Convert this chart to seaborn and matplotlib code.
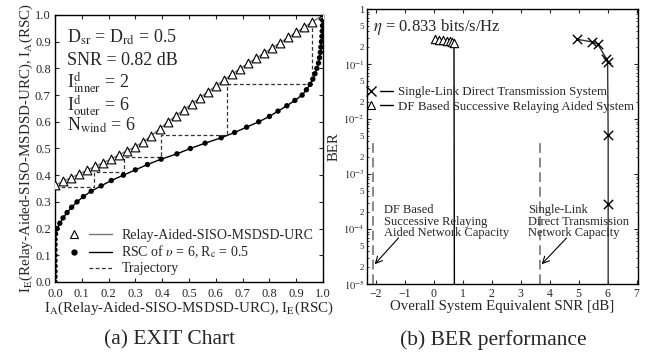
import numpy as np
import matplotlib
matplotlib.use("Agg")
import matplotlib.pyplot as plt
import matplotlib.ticker as mticker
from matplotlib.lines import Line2D
from matplotlib.legend_handler import HandlerTuple
import seaborn as sns

# --- EXIT chart data ---
# RSC curve: I_A(RSC) on the y axis, I_E(RSC) on the x axis
rsc_ia = [0.00, 0.02, 0.04, 0.06, 0.08, 0.10, 0.12, 0.14, 0.16, 0.18,
          0.20, 0.22, 0.24, 0.26, 0.28, 0.30, 0.32, 0.34, 0.36, 0.38,
          0.40, 0.42, 0.44, 0.46, 0.48, 0.50, 0.52, 0.54, 0.56, 0.58,
          0.60, 0.62, 0.64, 0.66, 0.68, 0.70, 0.72, 0.74, 0.76, 0.78,
          0.80, 0.82, 0.84, 0.86, 0.88, 0.90, 0.92, 0.94, 0.96, 0.98, 1.00]
rsc_ie = [0.0, 0.0, 0.0, 0.0, 0.0, 0.0, 0.0, 0.0, 0.0, 0.002,
          0.008, 0.018, 0.030, 0.045, 0.062, 0.082, 0.106, 0.135, 0.172, 0.210,
          0.255, 0.300, 0.345, 0.396, 0.455, 0.505, 0.560, 0.620, 0.670, 0.715,
          0.760, 0.800, 0.832, 0.865, 0.895, 0.922, 0.938, 0.952, 0.962, 0.970,
          0.977, 0.983, 0.987, 0.990, 0.992, 0.994, 0.996, 0.997, 0.998, 0.999, 1.0]

# Relay-Aided-SISO-MSDSD-URC curve
inner_ia = [0.00, 0.03, 0.06, 0.09, 0.12, 0.15, 0.18, 0.21, 0.24, 0.27,
            0.30, 0.33, 0.36, 0.39, 0.42, 0.45, 0.48, 0.51, 0.54, 0.57,
            0.60, 0.63, 0.66, 0.69, 0.72, 0.75, 0.78, 0.81, 0.84, 0.87,
            0.90, 0.93, 0.96, 1.00]
inner_ie = [0.362, 0.377, 0.391, 0.404, 0.419, 0.433, 0.447, 0.461, 0.477, 0.492,
            0.507, 0.525, 0.548, 0.573, 0.598, 0.622, 0.645, 0.667, 0.690, 0.712,
            0.734, 0.756, 0.778, 0.799, 0.819, 0.838, 0.857, 0.877, 0.896, 0.916,
            0.935, 0.954, 0.974, 1.000]

# decoding trajectory (staircase corners)
traj_x = [0.0, 0.147, 0.147, 0.257, 0.257, 0.397, 0.397, 0.643, 0.643, 0.96, 0.96]
traj_y = [0.357, 0.357, 0.413, 0.413, 0.467, 0.467, 0.55, 0.55, 0.74, 0.74, 0.975]

# --- BER data ---
single_snr = [4.96, 5.46, 5.66, 5.96, 6.0, 6.02, 6.02]
single_ber = [0.28, 0.253, 0.23, 0.125, 0.108, 0.0052, 2.9e-4]
single_cliff = 6.02
df_snr = [0.05, 0.2, 0.33, 0.45, 0.55, 0.63, 0.70]
df_ber = [0.28, 0.275, 0.27, 0.262, 0.258, 0.252, 0.245]
df_cliff = 0.72
capacity_snr = [-2.1, 3.66]
capacity_top = 4.2e-3
ber_floor = 1e-7  # below plotted range: no errors

sns.set_theme(style="ticks")
plt.rcParams["font.family"] = ["Liberation Serif", "DejaVu Serif"]
plt.rcParams["mathtext.fontset"] = "stix"
plt.rcParams["xtick.direction"] = "in"
plt.rcParams["ytick.direction"] = "in"
plt.rcParams["xtick.top"] = True
plt.rcParams["ytick.right"] = True
plt.rcParams["axes.linewidth"] = 1.0
plt.rcParams["axes.edgecolor"] = "black"

fig = plt.figure(figsize=(6.48, 3.56), dpi=100)
ax1 = fig.add_axes([0.0849, 0.2079, 0.4136, 0.75])
ax2 = fig.add_axes([0.5664, 0.2022, 0.4182, 0.7725])

# ---------------- (a) EXIT chart ----------------
sns.lineplot(x=traj_x, y=traj_y, ax=ax1, sort=False, estimator=None,
             color="#333333", lw=0.9, dashes=False, linestyle=(0, (3, 2)))
sns.lineplot(x=inner_ia, y=inner_ie, ax=ax1, sort=False, estimator=None,
             color="#777777", lw=1.0)
sns.lineplot(x=rsc_ie, y=rsc_ia, ax=ax1, sort=False, estimator=None,
             color="black", lw=1.0)
sns.scatterplot(x=inner_ia, y=inner_ie, ax=ax1, marker="^", s=40,
                facecolor="white", edgecolor="black", linewidth=0.8, zorder=4)
sns.scatterplot(x=rsc_ie, y=rsc_ia, ax=ax1, marker="o", s=15,
                color="black", edgecolor="none", zorder=5)

ax1.set_xlim(0, 1)
ax1.set_ylim(0, 1)
ax1.xaxis.set_major_locator(mticker.MultipleLocator(0.1))
ax1.yaxis.set_major_locator(mticker.MultipleLocator(0.1))
ax1.xaxis.set_major_formatter(mticker.FormatStrFormatter("%.1f"))
ax1.yaxis.set_major_formatter(mticker.FormatStrFormatter("%.1f"))
ax1.tick_params(axis="y", labelsize=9, length=3, width=0.8, pad=3)
ax1.tick_params(axis="x", labelsize=9, length=3, width=0.8, pad=4)
ax1.set_xlabel(r"I$_\mathrm{A}$(Relay-Aided-SISO-MSDSD-URC), I$_\mathrm{E}$(RSC)",
               fontsize=10.8, labelpad=0)
ax1.set_ylabel(r"I$_\mathrm{E}$(Relay-Aided-SISO-MSDSD-URC), I$_\mathrm{A}$(RSC)",
               fontsize=10.8, labelpad=0)

params = [r"D$_\mathrm{sr}$ = D$_\mathrm{rd}$ = 0.5",
          "SNR = 0.82 dB",
          r"I$^\mathrm{d}_\mathrm{inner}$ = 2",
          r"I$^\mathrm{d}_\mathrm{outer}$ = 6",
          r"N$_\mathrm{wind}$ = 6"]
param_y = [0.915, 0.83, 0.745, 0.66, 0.585]
for txt, yy in zip(params, param_y):
    ax1.text(0.045, yy, txt, fontsize=13, va="center", ha="left")

h_tri = Line2D([], [], marker="^", ls="none", mfc="white", mec="black", ms=6, mew=0.8)
h_gray = Line2D([], [], color="#777777", lw=1.0)
h_dot = Line2D([], [], marker="o", ls="none", color="black", ms=3.5)
h_blk = Line2D([], [], color="black", lw=1.0)
h_none = Line2D([], [], ls="none")
h_traj = Line2D([], [], color="#333333", lw=0.9, ls=(0, (3, 2)))
ax1.legend([(h_tri, h_gray), (h_dot, h_blk), (h_none, h_traj)],
           ["Relay-Aided-SISO-MSDSD-URC", r"RSC of $\upsilon$ = 6, R$_\mathrm{c}$ = 0.5",
            "Trajectory"],
           handler_map={tuple: HandlerTuple(ndivide=None, pad=0.3)},
           loc="upper left", bbox_to_anchor=(0.03, 0.2), frameon=False,
           fontsize=10, handlelength=3.5, handletextpad=0.7, labelspacing=0.15,
           borderpad=0, borderaxespad=0)

# ---------------- (b) BER performance ----------------
for xc in capacity_snr:
    ax2.vlines(xc, ber_floor, capacity_top, colors="#888888", lw=1.4,
               linestyles=[(0, (5, 2.5))])
sns.lineplot(x=df_snr + [df_cliff], y=df_ber + [ber_floor], ax=ax2, sort=False,
             estimator=None, color="black", lw=1.0)
sns.lineplot(x=single_snr + [single_cliff], y=single_ber + [ber_floor], ax=ax2,
             sort=False, estimator=None, color="#333333", lw=1.0)
sns.scatterplot(x=df_snr, y=df_ber, ax=ax2, marker="^", s=36, facecolor="white",
                edgecolor="black", linewidth=0.8, zorder=4)
sns.scatterplot(x=single_snr, y=single_ber, ax=ax2, marker="x", s=45,
                color="black", linewidth=1.0, zorder=4)

ax2.set_yscale("log")
ax2.set_ylim(1e-5, 1)
ax2.set_xlim(-2.3, 7.05)
ax2.xaxis.set_major_locator(mticker.MultipleLocator(1))
ax2.yaxis.set_major_locator(mticker.LogLocator(base=10, numticks=10))
ax2.yaxis.set_minor_locator(mticker.LogLocator(base=10, subs=np.arange(2, 10), numticks=10))


def major_fmt(v, pos):
    e = int(round(np.log10(v)))
    return "1" if e == 0 else r"$10^{%d}$" % e


def minor_fmt(v, pos):
    m = v / 10 ** np.floor(np.log10(v) + 1e-9)
    d = int(round(m))
    return str(d) if d in (2, 5) else ""


ax2.yaxis.set_major_formatter(mticker.FuncFormatter(major_fmt))
ax2.yaxis.set_minor_formatter(mticker.FuncFormatter(minor_fmt))
ax2.tick_params(axis="y", which="major", labelsize=7.5, length=3, width=0.8, pad=2)
ax2.tick_params(axis="y", which="minor", labelsize=6.5, length=1.5, width=0.6, pad=2)
ax2.tick_params(axis="x", labelsize=8.5, length=3, width=0.8, pad=3)
ax2.set_xlabel("Overall System Equivalent SNR [dB]", fontsize=10.7, labelpad=0)
ax2.set_ylabel("BER", fontsize=10.7, labelpad=2)

ax2.text(-2.1, 0.47, r"$\eta$ = 0.833 bits/s/Hz", fontsize=12, va="center", ha="left")

ax2.text(-1.7, 1.35e-4, "DF Based\nSuccessive Relaying\nAided Network Capacity",
         fontsize=9, va="center", ha="left", linespacing=0.95)
ax2.text(3.25, 1.35e-4, "Single-Link\nDirect Transmission\nNetwork Capacity",
         fontsize=9, va="center", ha="left", linespacing=0.95)
ax2.annotate("", xy=(capacity_snr[0], 2.1e-5), xytext=(-1.15, 7.5e-5),
             arrowprops=dict(arrowstyle="->", lw=0.8, color="black"))
ax2.annotate("", xy=(capacity_snr[1], 2.1e-5), xytext=(4.65, 7.5e-5),
             arrowprops=dict(arrowstyle="->", lw=0.8, color="black"))

h_x = Line2D([], [], marker="x", ls="none", color="black", ms=7, mew=1.0)
h_tri2 = Line2D([], [], marker="^", ls="none", mfc="white", mec="black", ms=6, mew=0.8)
h_dash = Line2D([], [], color="black", lw=1.0)
ax2.legend([(h_x, h_dash), (h_tri2, h_dash)],
           ["Single-Link Direct Transmission System",
            "DF Based Successive Relaying Aided System"],
           handler_map={tuple: HandlerTuple(ndivide=None, pad=0.2)},
           loc="upper left", bbox_to_anchor=(-0.01, 0.72), frameon=False,
           fontsize=9.3, handlelength=2.2, handletextpad=0.4, labelspacing=0.2,
           borderpad=0, borderaxespad=0)

fig.text(0.262, 0.045, "(a) EXIT Chart", fontsize=15.5, ha="center", va="center")
fig.text(0.762, 0.045, "(b) BER performance", fontsize=15.5, ha="center", va="center")

fig.savefig("out.png", dpi=100)
